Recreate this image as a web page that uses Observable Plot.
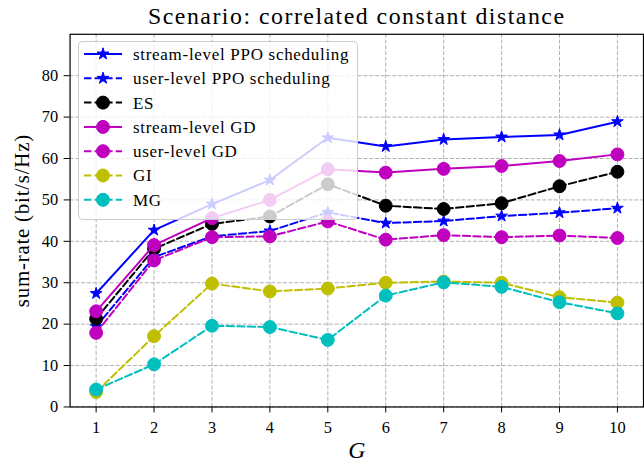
<!DOCTYPE html>
<html><head><meta charset="utf-8">
<script src="https://cdn.jsdelivr.net/npm/d3@7"></script>
<script src="https://cdn.jsdelivr.net/npm/@observablehq/plot@0.6"></script>
<style>
html,body{margin:0;padding:0;overflow:hidden;background:#fff;}
#wrap{position:relative;width:644px;height:466px;overflow:hidden;}
#wrap svg.plot{position:absolute;left:0;top:0;}
#legend{position:absolute;left:78px;top:41px;}
#wrap svg text{font-family:"Liberation Serif", serif !important;}
</style></head><body><div id="wrap"></div>
<script>
const G = [1, 2, 3, 4, 5, 6, 7, 8, 9, 10];
const yTicks = [0, 10, 20, 30, 40, 50, 60, 70, 80];
const seriesNames = ["stream-level PPO scheduling", "user-level PPO scheduling", "ES", "stream-level GD", "user-level GD", "GI", "MG"];
const streamPPO = [27.4, 42.7, 49.0, 54.8, 65.0, 62.9, 64.6, 65.2, 65.7, 68.9];
const userPPO   = [19.4, 36.2, 41.2, 42.5, 47.0, 44.4, 44.9, 46.1, 46.9, 48.0];
const ES        = [21.3, 38.2, 44.2, 46.0, 53.8, 48.6, 47.8, 49.2, 53.3, 56.8];
const streamGD  = [23.1, 39.1, 45.6, 50.0, 57.4, 56.6, 57.5, 58.2, 59.4, 61.0];
const userGD    = [17.9, 35.4, 41.0, 41.2, 44.8, 40.4, 41.5, 41.0, 41.4, 40.8];
const GI        = [3.6, 17.1, 29.8, 27.9, 28.6, 30.0, 30.3, 30.0, 26.5, 25.2];
const MG        = [4.2, 10.3, 19.6, 19.3, 16.2, 26.9, 30.1, 29.0, 25.3, 22.6];
const seriesValues = [streamPPO, userPPO, ES, streamGD, userGD, GI, MG];
const colors  = ["#0000ff", "#0000ff", "#000000", "#bf00bf", "#bf00bf", "#bfbf00", "#00bfbf"];
const dashed  = [false, true, true, false, true, true, true];
const symbols = ["star", "star", "circle", "circle", "circle", "circle", "circle"];

const FONT = "Liberation Serif";
const DASH = "7.4,3.2";
const STAR_R = 3.7, CIRCLE_R = 6.5;

const series = seriesNames.map((name, k) => ({
  name, color: colors[k], dash: dashed[k] ? DASH : null, symbol: symbols[k],
  data: G.map((g, i) => ({g, v: seriesValues[k][i]}))
}));

const marks = [
  Plot.gridX(G, {stroke: "#b0b0b0", strokeOpacity: 1, strokeWidth: 1, strokeDasharray: "4,1.8"}),
  Plot.gridY(yTicks, {stroke: "#b0b0b0", strokeOpacity: 1, strokeWidth: 1, strokeDasharray: "4,1.8"}),
  Plot.frame({stroke: "#000", strokeWidth: 1.2}),
];
for (const s of series) {
  marks.push(Plot.line(s.data, {x: "g", y: "v", stroke: s.color, strokeWidth: 2, strokeDasharray: s.dash}));
  marks.push(Plot.dot(s.data, {x: "g", y: "v", symbol: s.symbol, r: s.symbol === "star" ? STAR_R : CIRCLE_R, fill: s.color, stroke: s.color, strokeWidth: 1}));
}
marks.push(
  Plot.axisX(G, {anchor: "bottom", tickSize: 6, tickPadding: 8, fontSize: 16.5, label: null, stroke: "#000"}),
  Plot.axisY(yTicks, {anchor: "left", tickSize: 6, tickPadding: 6, fontSize: 16.5, label: null, stroke: "#000"}),
  Plot.text(["Scenario: correlated constant distance"], {frameAnchor: "top", lineAnchor: "middle", textAnchor: "middle", dy: -18, fontSize: 24, fill: "#000"}),
  Plot.text(["sum-rate (bit/s/Hz)"], {frameAnchor: "left", lineAnchor: "middle", textAnchor: "middle", rotate: -90, dx: -48, fontSize: 21, fill: "#000"}),
  Plot.text(["G"], {frameAnchor: "bottom", lineAnchor: "middle", textAnchor: "middle", dy: 44, fontSize: 24, fontStyle: "italic", fill: "#000"})
);

const chart = Plot.plot({
  width: 648, height: 466,
  marginLeft: 70, marginRight: 1, marginTop: 34, marginBottom: 57,
  style: {fontFamily: FONT, color: "#000", background: "transparent", overflow: "visible"},
  x: {type: "linear", domain: [0.55, 10.45], axis: null},
  y: {domain: [0, 90], axis: null},
  marks
});
chart.classList.add("plot");
const wrap = document.getElementById("wrap");
wrap.appendChild(chart);
// letter spacing to approximate Computer Modern widths
d3.select(chart).selectAll("text").filter(function() { return /Scenario/.test(this.textContent); }).style("letter-spacing", "1.5px");
d3.select(chart).selectAll("text").filter(function() { return /sum-rate/.test(this.textContent); }).style("letter-spacing", "0.8px");

// Legend (semi-transparent, drawn over the axes like matplotlib)
const LW = 279, LH = 178, rowH = 24.3;
const leg = d3.select(wrap).append("svg").attr("id", "legend").attr("width", LW + 2).attr("height", LH + 2);
leg.append("rect").attr("x", 0.5).attr("y", 0.5).attr("width", LW).attr("height", LH).attr("rx", 4)
  .attr("fill", "rgba(255,255,255,0.8)").attr("stroke", "#cccccc").attr("stroke-width", 1);
series.forEach((s, k) => {
  const y = 13 + k * rowH;
  const g = leg.append("g").attr("transform", `translate(0,${y})`);
  g.append("line").attr("x1", 6).attr("x2", 44).attr("y1", 0).attr("y2", 0)
    .attr("stroke", s.color).attr("stroke-width", 2).attr("stroke-dasharray", s.dash);
  const sym = s.symbol === "star" ? d3.symbolStar : d3.symbolCircle;
  const r = s.symbol === "star" ? STAR_R : CIRCLE_R;
  g.append("path").attr("transform", "translate(25,0)")
    .attr("d", d3.symbol(sym, r * r * Math.PI)())
    .attr("fill", s.color).attr("stroke", s.color);
  g.append("text").attr("x", 55).attr("y", 0).attr("dy", "0.35em")
    .attr("font-size", 17).style("letter-spacing", "0.7px").attr("fill", "#000").text(s.name);
});
</script>
</body></html>
